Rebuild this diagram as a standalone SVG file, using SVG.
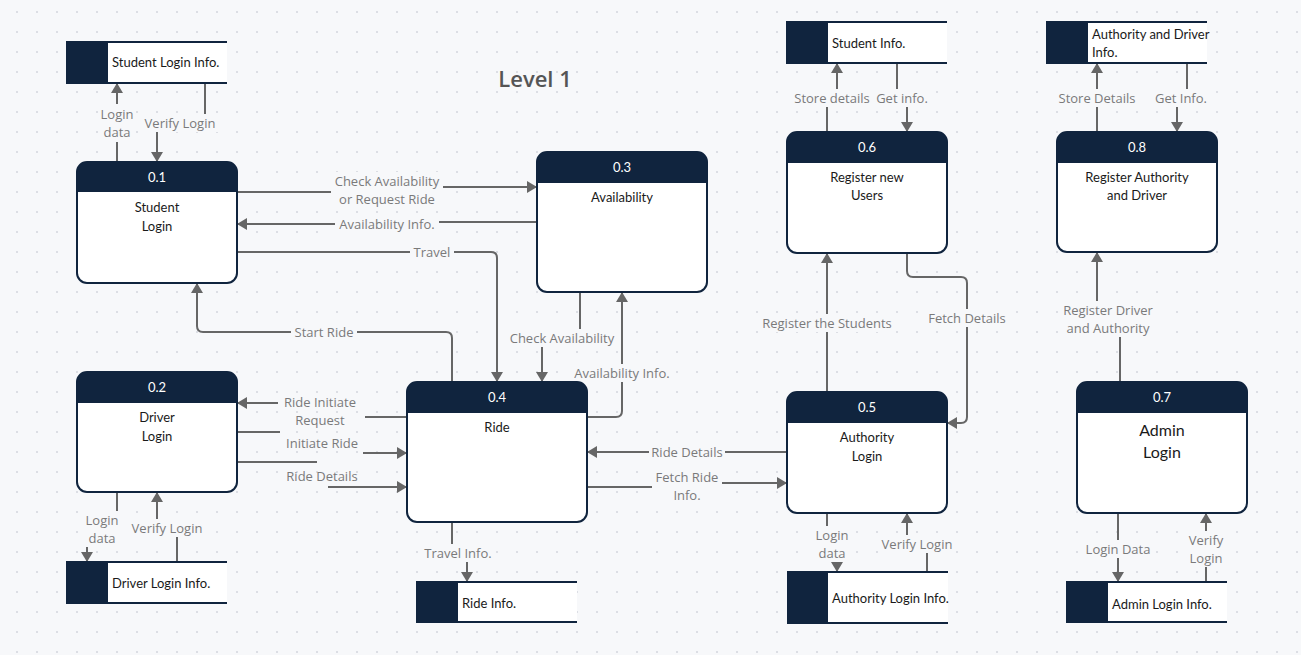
<svg xmlns="http://www.w3.org/2000/svg" width="1301" height="655" viewBox="0 0 1301 655">
<defs>
<pattern id="dots" x="0" y="0" width="20" height="20" patternUnits="userSpaceOnUse"><circle cx="17" cy="12" r="1" fill="#d3d6dc"/></pattern>
<marker id="ah" viewBox="0 0 10 12" refX="10" refY="6" markerWidth="10" markerHeight="12" markerUnits="userSpaceOnUse" orient="auto"><path d="M0,0 L10,6 L0,12 z" fill="#666"/></marker>
<style>
.c{fill:none;stroke:#666;stroke-width:2;marker-end:url(#ah)}
.p{fill:none;stroke:#666;stroke-width:2}
.lb{fill:#f7f8fa}
.lt{font-family:"Open Sans","DejaVu Sans",sans-serif;font-size:13px;fill:#7a7a7a;text-anchor:middle}
.box{fill:#fff;stroke:#10243e;stroke-width:2}
.hd{fill:#10243e}
.num{font-family:Lato,"Open Sans",sans-serif;font-size:13px;fill:#fff;text-anchor:middle}
.nt{font-family:Lato,"Open Sans",sans-serif;font-size:13px;fill:#1a1a1a;text-anchor:middle}
.big{font-size:16px}
.st{fill:#fff}
.sl{stroke:#10243e;stroke-width:2}
.sd{fill:#10243e}
.stt{font-family:Lato,"Open Sans",sans-serif;font-size:13px;fill:#1a1a1a}
</style>
</defs>
<rect width="1301" height="655" fill="#f7f8fa"/>
<rect width="1301" height="655" fill="url(#dots)"/>
<text x="535" y="87" font-family="'Open Sans',sans-serif" font-size="22" font-weight="600" fill="#555" text-anchor="middle">Level 1</text>

<g id="connectors">
<path class="c" d="M117 162 V83"/>
<path class="c" d="M205 83 V123 H157 V162"/>
<path class="c" d="M237 192 H387 V187 H537"/>
<path class="c" d="M537 222 H387 V224 H237"/>
<path class="c" d="M237 252 H491 Q497 252 497 258 V382"/>
<path class="c" d="M452 382 V338 Q452 332 446 332 H203 Q197 332 197 326 V283"/>
<path class="c" d="M580 292 V338 H542 V382"/>
<path class="c" d="M587 417 H616 Q622 417 622 411 V292"/>
<path class="p" d="M407 417 H365"/><path class="c" d="M278 403 H237"/>
<path class="p" d="M237 432 H280"/><path class="c" d="M363 453 H407"/>
<path class="p" d="M237 462 H317"/><path class="c" d="M328 487 H407"/>
<path class="c" d="M117 492 V529 H87 V562"/>
<path class="c" d="M177 562 V528 H157 V492"/>
<path class="c" d="M452 522 V553 H467 V582"/>
<path class="c" d="M787 452 H587"/>
<path class="c" d="M587 487 H687 V483 H787"/>
<path class="c" d="M827 513 V544 H837 V572"/>
<path class="c" d="M927 572 V544 H907 V513"/>
<path class="c" d="M827 132 V98 H837 V63"/>
<path class="c" d="M897 63 V98 H907 V132"/>
<path class="c" d="M827 392 V253"/>
<path class="c" d="M907 253 V271 Q907 277 913 277 H961 Q967 277 967 283 V417 Q967 423 961 423 H947"/>
<path class="c" d="M1097 132 V63"/>
<path class="c" d="M1187 63 V98 H1177 V132"/>
<path class="c" d="M1120 382 V319 H1097 V252"/>
<path class="c" d="M1118 513 V582"/>
<path class="c" d="M1206 582 V513"/>

<rect class="lb" x="99" y="104" width="36" height="38"/><text class="lt" x="117" y="118.5">Login</text><text class="lt" x="117" y="136.5">data</text>
<rect class="lb" x="142" y="114" width="76" height="18"/><text class="lt" x="180" y="127.5">Verify Login</text>
<rect class="lb" x="331" y="172" width="112" height="36"/><text class="lt" x="387" y="185.5">Check Availability</text><text class="lt" x="387" y="203.5">or Request Ride</text>
<rect class="lb" x="335" y="215" width="104" height="18"/><text class="lt" x="387" y="228.5">Availability Info.</text>
<rect class="lb" x="410" y="243" width="44" height="18"/><text class="lt" x="432" y="256.5">Travel</text>
<rect class="lb" x="291" y="323" width="66" height="18"/><text class="lt" x="324" y="336.5">Start Ride</text>
<rect class="lb" x="506" y="329" width="112" height="18"/><text class="lt" x="562" y="342.5">Check Availability</text>
<rect class="lb" x="570" y="364" width="104" height="18"/><text class="lt" x="622" y="377.5">Availability Info.</text>
<text class="lt" x="320" y="406.5">Ride Initiate</text><text class="lt" x="320" y="424.5">Request</text>
<text class="lt" x="322" y="447.5">Initiate Ride</text>
<text class="lt" x="322" y="480.5">Ride Details</text>
<rect class="lb" x="84" y="511" width="36" height="36"/><text class="lt" x="102" y="524.5">Login</text><text class="lt" x="102" y="542.5">data</text>
<rect class="lb" x="129" y="519" width="76" height="18"/><text class="lt" x="167" y="532.5">Verify Login</text>
<rect class="lb" x="421" y="544" width="74" height="18"/><text class="lt" x="458" y="557.5">Travel Info.</text>
<rect class="lb" x="649" y="443" width="76" height="18"/><text class="lt" x="687" y="456.5">Ride Details</text>
<rect class="lb" x="652" y="468" width="70" height="36"/><text class="lt" x="687" y="481.5">Fetch Ride</text><text class="lt" x="687" y="499.5">Info.</text>
<rect class="lb" x="814" y="526" width="36" height="36"/><text class="lt" x="832" y="539.5">Login</text><text class="lt" x="832" y="557.5">data</text>
<rect class="lb" x="879" y="535" width="76" height="18"/><text class="lt" x="917" y="548.5">Verify Login</text>
<rect class="lb" x="793" y="89" width="78" height="18"/><text class="lt" x="832" y="102.5">Store details</text>
<rect class="lb" x="874" y="89" width="56" height="18"/><text class="lt" x="902" y="102.5">Get info.</text>
<rect class="lb" x="759" y="314" width="136" height="18"/><text class="lt" x="827" y="327.5">Register the Students</text>
<rect class="lb" x="926" y="309" width="82" height="18"/><text class="lt" x="967" y="322.5">Fetch Details</text>
<rect class="lb" x="1056" y="89" width="82" height="18"/><text class="lt" x="1097" y="102.5">Store Details</text>
<rect class="lb" x="1153" y="89" width="56" height="18"/><text class="lt" x="1181" y="102.5">Get Info.</text>
<rect class="lb" x="1058" y="301" width="100" height="36"/><text class="lt" x="1108" y="314.5">Register Driver</text><text class="lt" x="1108" y="332.5">and Authority</text>
<rect class="lb" x="1084" y="540" width="68" height="18"/><text class="lt" x="1118" y="553.5">Login Data</text>
<rect class="lb" x="1186" y="531" width="40" height="36"/><text class="lt" x="1206" y="544.5">Verify</text><text class="lt" x="1206" y="562.5">Login</text>
</g>

<g id="n01"><rect class="box" x="77" y="162" width="160" height="121" rx="10"/><path class="hd" d="M77 192 V172 A10 10 0 0 1 87 162 H227 A10 10 0 0 1 237 172 V192 Z"/><text class="num" x="157" y="182">0.1</text><text class="nt" x="157" y="211.5">Student</text><text class="nt" x="157" y="230.5">Login</text></g>
<g id="n02"><rect class="box" x="77" y="372" width="160" height="120" rx="10"/><path class="hd" d="M77 403 V382 A10 10 0 0 1 87 372 H227 A10 10 0 0 1 237 382 V403 Z"/><text class="num" x="157" y="392">0.2</text><text class="nt" x="157" y="421.5">Driver</text><text class="nt" x="157" y="440.5">Login</text></g>
<g id="n03"><rect class="box" x="537" y="152" width="170" height="140" rx="10"/><path class="hd" d="M537 183 V162 A10 10 0 0 1 547 152 H697 A10 10 0 0 1 707 162 V183 Z"/><text class="num" x="622" y="172">0.3</text><text class="nt" x="622" y="201.5">Availability</text></g>
<g id="n04"><rect class="box" x="407" y="382" width="180" height="140" rx="10"/><path class="hd" d="M407 413 V392 A10 10 0 0 1 417 382 H577 A10 10 0 0 1 587 392 V413 Z"/><text class="num" x="497" y="402">0.4</text><text class="nt" x="497" y="431.5">Ride</text></g>
<g id="n05"><rect class="box" x="787" y="392" width="160" height="121" rx="10"/><path class="hd" d="M787 423 V402 A10 10 0 0 1 797 392 H937 A10 10 0 0 1 947 402 V423 Z"/><text class="num" x="867" y="412">0.5</text><text class="nt" x="867" y="441.5">Authority</text><text class="nt" x="867" y="460.5">Login</text></g>
<g id="n06"><rect class="box" x="787" y="132" width="160" height="121" rx="10"/><path class="hd" d="M787 163 V142 A10 10 0 0 1 797 132 H937 A10 10 0 0 1 947 142 V163 Z"/><text class="num" x="867" y="152">0.6</text><text class="nt" x="867" y="181.5">Register new</text><text class="nt" x="867" y="199.5">Users</text></g>
<g id="n08"><rect class="box" x="1057" y="132" width="160" height="120" rx="10"/><path class="hd" d="M1057 163 V142 A10 10 0 0 1 1067 132 H1207 A10 10 0 0 1 1217 142 V163 Z"/><text class="num" x="1137" y="152">0.8</text><text class="nt" x="1137" y="181.5">Register Authority</text><text class="nt" x="1137" y="199.5">and Driver</text></g>
<g id="n07"><rect class="box" x="1077" y="382" width="170" height="131" rx="10"/><path class="hd" d="M1077 413 V392 A10 10 0 0 1 1087 382 H1237 A10 10 0 0 1 1247 392 V413 Z"/><text class="num" x="1162" y="402">0.7</text><text class="nt big" x="1162" y="436">Admin</text><text class="nt big" x="1162" y="458">Login</text></g>

<g id="s_student_login"><rect class="st" x="66" y="42" width="161" height="41"/><path class="sl" d="M66 42 H227 M66 83 H227"/><rect class="sd" x="66" y="41" width="42" height="43"/><text class="stt" x="112" y="67">Student Login Info.</text></g>
<g id="s_driver_login"><rect class="st" x="66" y="562" width="161" height="41"/><path class="sl" d="M66 562 H227 M66 603 H227"/><rect class="sd" x="66" y="561" width="42" height="43"/><text class="stt" x="112" y="587.5">Driver Login Info.</text></g>
<g id="s_ride"><rect class="st" x="416" y="582" width="161" height="40"/><path class="sl" d="M416 582 H577 M416 622 H577"/><rect class="sd" x="416" y="581" width="42" height="42"/><text class="stt" x="462" y="607.5">Ride Info.</text></g>
<g id="s_authority_login"><rect class="st" x="787" y="572" width="161" height="51"/><path class="sl" d="M787 572 H948 M787 623 H948"/><rect class="sd" x="787" y="571" width="41" height="53"/><text class="stt" x="832" y="602.5">Authority Login Info.</text></g>
<g id="s_student"><rect class="st" x="786" y="22" width="161" height="41"/><path class="sl" d="M786 22 H947 M786 63 H947"/><rect class="sd" x="786" y="21" width="42" height="43"/><text class="stt" x="832" y="47.5">Student Info.</text></g>
<g id="s_auth_driver"><rect class="st" x="1046" y="22" width="161" height="41"/><path class="sl" d="M1046 22 H1207 M1046 63 H1207"/><rect class="sd" x="1046" y="21" width="42" height="43"/><text class="stt" x="1092" y="38.5">Authority and Driver</text><text class="stt" x="1092" y="56.5">Info.</text></g>
<g id="s_admin_login"><rect class="st" x="1066" y="582" width="161" height="40"/><path class="sl" d="M1066 582 H1227 M1066 622 H1227"/><rect class="sd" x="1066" y="581" width="42" height="42"/><text class="stt" x="1112" y="608.5">Admin Login Info.</text></g>
</svg>
